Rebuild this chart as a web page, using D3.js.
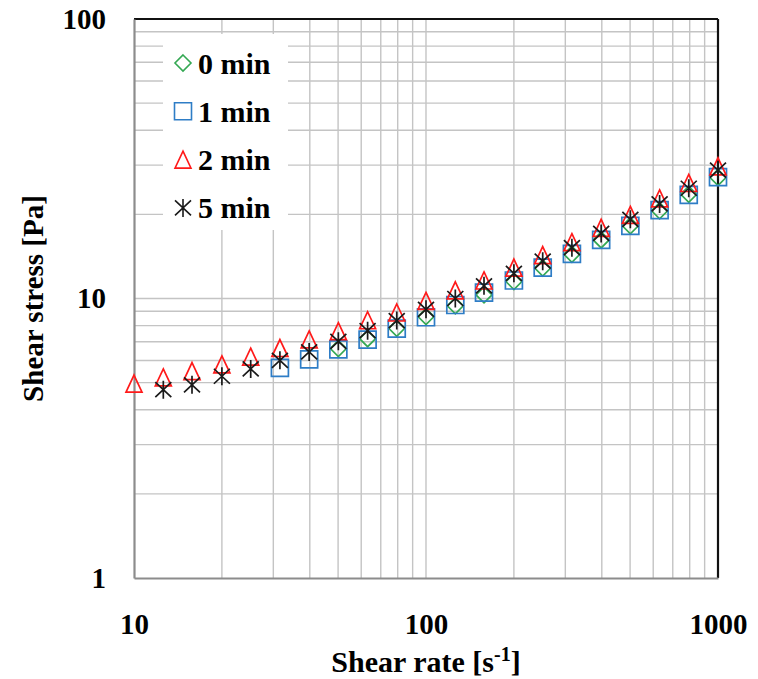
<!DOCTYPE html>
<html>
<head>
<meta charset="utf-8">
<script src="https://cdn.jsdelivr.net/npm/d3@7"></script>
<style>
  body { margin: 0; background: #fff; }
  text { font-family: "Liberation Serif", "Times New Roman", serif; font-weight: bold; fill: #000; }
</style>
</head>
<body>
<div id="chart"></div>
<script>
// shear rate [1/s], 10 points per decade
var shearRate = [10, 12.6, 15.8, 20, 25.1, 31.6, 39.8, 50.1, 63.1, 79.4, 100, 126, 158, 200, 251, 316, 398, 501, 631, 794, 1000];

// shear stress [Pa] for each mixing time (null = not measured)
var stress0min = [null, null, null, null, null, null, null, 6.62, 7.18, 7.82, 8.62, 9.42, 10.3, 11.5, 12.85, 14.4, 16.2, 18.2, 20.6, 23.6, 27.1];
var stress1min = [null, null, null, null, null, 5.65, 6.06, 6.58, 7.13, 7.80, 8.57, 9.48, 10.5, 11.6, 12.9, 14.45, 16.2, 18.2, 20.7, 23.5, 27.2];
var stress2min = [4.96, 5.22, 5.50, 5.81, 6.19, 6.65, 7.14, 7.64, 8.36, 8.91, 9.80, 10.7, 11.6, 12.9, 14.3, 15.9, 17.9, 19.9, 22.8, 25.9, 29.7];
var stress5min = [null, 4.72, 4.91, 5.27, 5.60, 6.01, 6.44, 7.03, 7.67, 8.34, 9.15, 10.0, 11.1, 12.3, 13.6, 15.2, 17.1, 19.2, 21.8, 24.8, 28.8];

var seriesNames = ["0 min", "1 min", "2 min", "5 min"];
var xTickLabels = [10, 100, 1000];
var yTickLabels = [1, 10, 100];

var margin = { top: 19, right: 40, bottom: 101, left: 134 };
var width = 584;
var height = 559;

var svg = d3.select("#chart")
	.append("svg")
	.attr("width", 758)
	.attr("height", 679)
	.append("g")
	.attr("transform", "translate(" + margin.left + "," + margin.top + ")");

//Scales
var x = d3.scaleLog().domain([10, 1000]).range([0, width]);
var y = d3.scaleLog().domain([1, 100]).range([height, 0]);

//Gridlines (every minor tick of the log scales)
var xGrid = x.ticks().filter(function(d) { return d > 10 && d < 1000; });
var yGrid = y.ticks().filter(function(d) { return d > 1 && d < 100; });

svg.append("g").selectAll("line")
	.data(xGrid)
	.enter().append("line")
	.attr("x1", function(d) { return x(d); })
	.attr("x2", function(d) { return x(d); })
	.attr("y1", 0)
	.attr("y2", height)
	.attr("stroke", "#c4c4c4")
	.attr("stroke-width", 1.4);

svg.append("g").selectAll("line")
	.data(yGrid)
	.enter().append("line")
	.attr("x1", 0)
	.attr("x2", width)
	.attr("y1", function(d) { return y(d); })
	.attr("y2", function(d) { return y(d); })
	.attr("stroke", "#c4c4c4")
	.attr("stroke-width", 1.4);

//Frame: black top/right, grey axes left/bottom
svg.append("line").attr("x1", 0).attr("x2", width).attr("y1", 0).attr("y2", 0)
	.attr("stroke", "#111").attr("stroke-width", 2.2);
svg.append("line").attr("x1", width).attr("x2", width).attr("y1", 0).attr("y2", height)
	.attr("stroke", "#111").attr("stroke-width", 2.2);

//Axes
svg.append("g")
	.attr("class", "x axis")
	.attr("transform", "translate(0," + height + ")")
	.call(d3.axisBottom(x).tickValues(xTickLabels).tickFormat(d3.format("d")).tickSize(0).tickPadding(35));
svg.append("g")
	.attr("class", "y axis")
	.call(d3.axisLeft(y).tickValues(yTickLabels).tickFormat(d3.format("d")).tickSize(0).tickPadding(28));

svg.selectAll(".axis .domain").attr("stroke", "#8c8c8c").attr("stroke-width", 2.2);
svg.selectAll(".axis text").style("font-size", "29px").attr("fill", "#000");

//Axis titles
var xTitle = svg.append("text")
	.attr("x", width / 2)
	.attr("y", 653)
	.attr("text-anchor", "middle")
	.style("font-size", "30px");
xTitle.append("tspan").text("Shear rate [s");
xTitle.append("tspan").attr("dy", -11).style("font-size", "20px").text("-1");
xTitle.append("tspan").attr("dy", 11).text("]");

svg.append("text")
	.attr("transform", "translate(-91," + (height / 2) + ") rotate(-90)")
	.attr("text-anchor", "middle")
	.style("font-size", "29px")
	.text("Shear stress [Pa]");

//Marker shapes
var symbols = {
	diamond: "M0,-8L8,0L0,8L-8,0Z",
	square: "M-8.5,-8.5H8.5V8.5H-8.5Z",
	triangle: "M0,-8.5L8,8.5H-8Z",
	star: "M0,-9V9M-8,-7.5L8,7.5M8,-7.5L-8,7.5"
};

var series = [
	{ name: seriesNames[0], values: stress0min, shape: "diamond", color: "#34a853" },
	{ name: seriesNames[1], values: stress1min, shape: "square", color: "#2e7dc6" },
	{ name: seriesNames[2], values: stress2min, shape: "triangle", color: "#ff1a1a" },
	{ name: seriesNames[3], values: stress5min, shape: "star", color: "#1a1a1a" }
];

var serie = svg.selectAll(".serie")
	.data(series)
	.enter().append("g")
	.attr("class", "serie");

serie.selectAll("path")
	.data(function(s) {
		return shearRate.map(function(r, i) { return { rate: r, value: s.values[i], s: s }; })
			.filter(function(d) { return d.value != null; });
	})
	.enter().append("path")
	.attr("transform", function(d) { return "translate(" + x(d.rate) + "," + y(d.value) + ")"; })
	.attr("d", function(d) { return symbols[d.s.shape]; })
	.attr("fill", "none")
	.attr("stroke", function(d) { return d.s.color; })
	.attr("stroke-width", 1.7);

//Legend
var legend = svg.append("g")
	.attr("transform", "translate(29,15)");

legend.append("rect")
	.attr("width", 125)
	.attr("height", 196)
	.attr("fill", "#fff");

var item = legend.selectAll(".item")
	.data(series)
	.enter().append("g")
	.attr("class", "item")
	.attr("transform", function(d, i) { return "translate(20," + (29 + i * 48.3) + ")"; });

item.append("path")
	.attr("d", function(d) { return symbols[d.shape]; })
	.attr("fill", "none")
	.attr("stroke", function(d) { return d.color; })
	.attr("stroke-width", 1.6);

item.append("text")
	.attr("x", 15)
	.attr("dy", "0.35em")
	.style("font-size", "30px")
	.text(function(d) { return d.name; });
</script>
</body>
</html>
